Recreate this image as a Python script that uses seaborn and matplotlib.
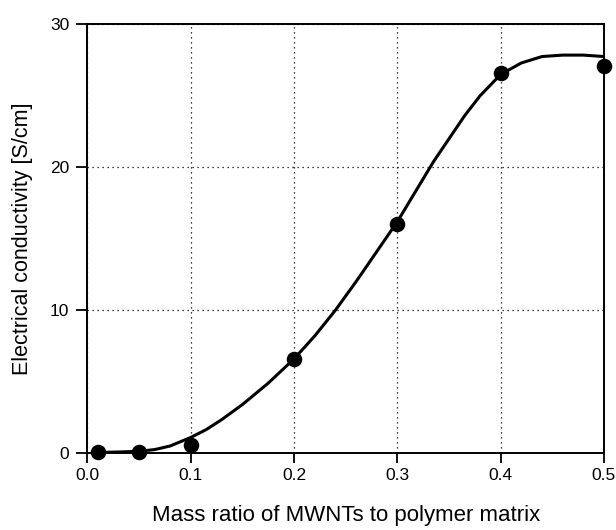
import matplotlib
matplotlib.use("Agg")
import matplotlib.pyplot as plt
import seaborn as sns
import pandas as pd

# measured points
mass_ratio = [0.01, 0.05, 0.10, 0.20, 0.30, 0.40, 0.50]
conductivity = [0.05, 0.1, 0.6, 6.6, 16.0, 26.6, 27.1]

# fitted curve
curve_x = [0.01, 0.03, 0.05, 0.065, 0.08, 0.10, 0.115, 0.13, 0.15, 0.175,
           0.20, 0.22, 0.24, 0.26, 0.28, 0.30, 0.32, 0.335, 0.35, 0.365,
           0.38, 0.40, 0.42, 0.44, 0.46, 0.48, 0.50]
curve_y = [0.05, 0.08, 0.13, 0.25, 0.5, 1.1, 1.65, 2.35, 3.4, 4.9,
           6.6, 8.2, 10.0, 12.0, 14.1, 16.2, 18.6, 20.4, 22.0, 23.6,
           25.0, 26.5, 27.3, 27.75, 27.85, 27.85, 27.75]

x_ticks = [0.0, 0.1, 0.2, 0.3, 0.4, 0.5]
x_tick_labels = ["0.0", "0.1", "0.2", "0.3", "0.4", "0.5"]
y_ticks = [0, 10, 20, 30]
x_label = "Mass ratio of MWNTs to polymer matrix"
y_label = "Electrical conductivity [S/cm]"

sns.set_theme(style="ticks")
plt.rcParams["font.family"] = ["Liberation Sans", "DejaVu Sans"]

fig = plt.figure(figsize=(6.16, 5.30), dpi=100)
ax = fig.add_axes([0.142, 0.145, 0.8385, 0.809])

pts = pd.DataFrame({"x": mass_ratio, "y": conductivity})
crv = pd.DataFrame({"x": curve_x, "y": curve_y})

sns.lineplot(data=crv, x="x", y="y", ax=ax, color="black", linewidth=2.2,
             sort=True, estimator=None, zorder=3)
sns.scatterplot(data=pts, x="x", y="y", ax=ax, color="black", s=125,
                edgecolor="black", linewidth=0, zorder=4, clip_on=False)

ax.set_xlim(0, 0.5)
ax.set_ylim(0, 30)
ax.set_xticks(x_ticks)
ax.set_xticklabels(x_tick_labels)
ax.set_yticks(y_ticks)
ax.grid(True, linestyle=(0, (1, 3)), color="black", linewidth=0.9)
ax.set_axisbelow(True)

for s in ax.spines.values():
    s.set_color("black")
    s.set_linewidth(1.4)

ax.tick_params(axis="both", direction="out", width=1.3,
               colors="black", labelsize=12.5)
ax.tick_params(axis="x", length=7, pad=3.5)
ax.tick_params(axis="y", length=8, pad=5)
ax.set_xlabel(x_label, fontsize=16, color="black", labelpad=16)
ax.set_ylabel(y_label, fontsize=15.5, color="black", labelpad=12)

fig.savefig("out.png", dpi=100)
